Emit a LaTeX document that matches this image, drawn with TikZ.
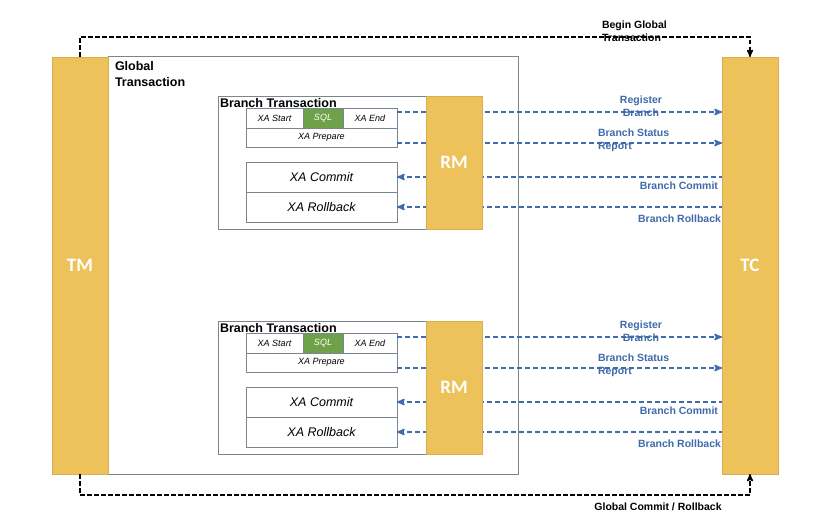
\documentclass[tikz,border=0pt]{standalone}
\usepackage{fontspec}
\setmainfont{Liberation Sans}
\newfontfamily\rmfont{Carlito}
\usepackage{tikz}
\usetikzlibrary{arrows,positioning,calc}
\definecolor{tmgold}{HTML}{EEC25A}
\definecolor{tmedge}{HTML}{D8AE50}
\definecolor{sqlgreen}{HTML}{6FA04A}
\definecolor{msgblue}{HTML}{3F6BAA}
\definecolor{boxgray}{HTML}{7A8590}

\begin{document}
\begin{tikzpicture}[x=1pt,y=-1pt,>=stealth',
			every node/.style={inner sep=0pt,outer sep=0pt}]
			\tikzstyle{party}=[fill=tmgold,draw=tmedge,line width=0.6pt,minimum width=56pt,text=white,font=\rmfont\bfseries\fontsize{19}{22}\selectfont]
			\tikzstyle{cell}=[draw=boxgray,fill=white,minimum height=20pt,font=\itshape\fontsize{9}{10}\selectfont]
			\tikzstyle{xabox}=[draw=boxgray,fill=white,minimum width=151pt,minimum height=30pt,font=\itshape\fontsize{12.5}{14}\selectfont]
			\tikzstyle{msg}=[msgblue,line width=1.6pt,dash pattern=on 5pt off 3pt]
			\tikzstyle{ctrl}=[black,line width=1.5pt,dash pattern=on 4.5pt off 2.5pt]
			\tikzstyle{msglabel}=[text=msgblue,font=\bfseries\fontsize{10.5}{13}\selectfont]
			\tikzstyle{ctrllabel}=[font=\bfseries\fontsize{10.5}{13}\selectfont]
			
			\fill[white] (0,0) rectangle (820,529);
			\useasboundingbox (0,0) rectangle (820,529);
			
			% global transaction frame
			\node[draw=boxgray,line width=1pt,minimum width=410pt,minimum height=417pt] (gt) at (313,265.5) {};
			\node[anchor=north west,align=left,font=\bfseries\fontsize{12.5}{16}\selectfont] (gtlabel) at (115,61) {Global\\Transaction};
			
			\node[party,minimum height=417pt] (tm) at (80,265.5) {TM};
			\node[party,minimum height=417pt] (tc) at (750,265.5) {TC};
			
			% begin and end of the global transaction
			\draw[ctrl,->] (tm.north) -- ++(0,-20) -| (tc.north);
			\node[ctrllabel,align=left,anchor=west] (begin) at (602,31.5) {Begin Global\\Transaction};
			\draw[ctrl,->] (tm.south) -- ++(0,21) -| (tc.south);
			\node[ctrllabel] (finish) at (658,507) {Global Commit / Rollback};
			
			% the two branch transactions
			\foreach \i/\dy in {1/0,2/225}{
				\node[draw=boxgray,line width=0.8pt,minimum width=208pt,minimum height=133pt] (bt\i) at (322,162.5+\dy) {};
				\node[anchor=west,font=\bfseries\fontsize{12.5}{14}\selectfont] (btlabel\i) at (220,103+\dy) {Branch Transaction};
				
				\node[cell,minimum width=57pt] (start\i) at (274.5,118+\dy) {XA Start};
				\node[cell,fill=sqlgreen,text=white,minimum width=40pt,right=0pt of start\i] (sql\i) {SQL};
				\node[cell,minimum width=54pt,right=0pt of sql\i] (end\i) {XA End};
				\node[cell,minimum width=151pt,minimum height=19pt,anchor=north west] (prep\i) at (start\i.south west) {XA Prepare};
				
				\node[xabox] (commit\i) at (321.5,177+\dy) {XA Commit};
				\node[xabox,below=0pt of commit\i] (rollback\i) {XA Rollback};
				
				\coordinate (reg\i) at ($(end\i.east)+(0,-6)$);
				\coordinate (stat\i) at ($(prep\i.east)+(0,5.5)$);
				\draw[msg,->] (reg\i) -- (reg\i -| tc.west);
				\draw[msg,->] (stat\i) -- (stat\i -| tc.west);
				\draw[msg,<-] (commit\i.east) -- (commit\i.east -| tc.west);
				\draw[msg,<-] (rollback\i.east) -- (rollback\i.east -| tc.west);
				
				\node[party,minimum height=133pt] (rm\i) at (454,162.5+\dy) {RM};
				
				\node[msglabel,align=center] (reglabel\i) at (641,106.5+\dy) {Register\\Branch};
				\node[msglabel,align=left,anchor=west] (statlabel\i) at (598,140+\dy) {Branch Status\\Report};
				\node[msglabel,anchor=east] (commitlabel\i) at (718,186+\dy) {Branch Commit};
				\node[msglabel,anchor=east] (rollbacklabel\i) at (721,219+\dy) {Branch Rollback};
			}
			
			\end{tikzpicture}
\end{document}
